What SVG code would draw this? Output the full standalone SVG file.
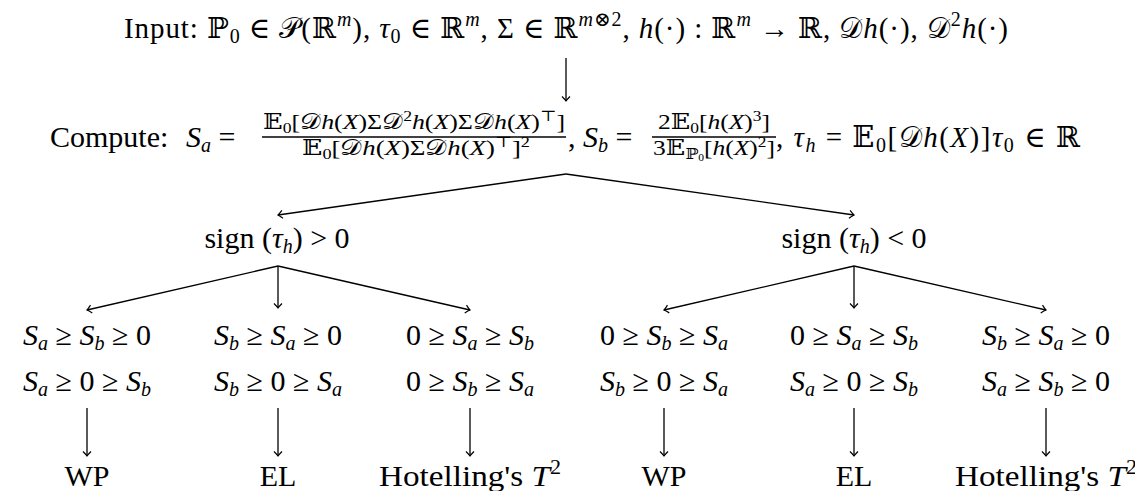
<svg xmlns="http://www.w3.org/2000/svg" width="1135" height="491" viewBox="0 0 1135 491">
<style>
.t{font-family:"Liberation Serif","DejaVu Serif",serif;font-size:29px;fill:#000}
.f{font-family:"Liberation Serif","DejaVu Serif",serif;font-size:22px;fill:#000}
.b{font-size:30px}
.s{font-size:20px}
.ss{font-size:15px}
.i{font-style:italic}
.c{text-anchor:middle}
.e{stroke:#000;stroke-width:1.3;fill:none}
</style>
<defs>
<marker id="to" markerUnits="userSpaceOnUse" markerWidth="12" markerHeight="12" viewBox="-6 -6 12 12" refX="0" refY="0" orient="auto">
<path d="M-4.5,-4 Q-1.5,-1 0,0 Q-1.5,1 -4.5,4" fill="none" stroke="#000" stroke-width="1.2"/>
</marker>
</defs>
<g id="connectors" class="e" marker-end="url(#to)">
<line x1="566" y1="58" x2="566" y2="101"/>
<line x1="566" y1="174" x2="278" y2="215"/>
<line x1="566" y1="174" x2="854" y2="215"/>
<line x1="278" y1="266" x2="87" y2="310"/>
<line x1="278" y1="266" x2="278" y2="308"/>
<line x1="278" y1="266" x2="470" y2="310"/>
<line x1="854" y1="266" x2="664" y2="310"/>
<line x1="854" y1="266" x2="854" y2="308"/>
<line x1="854" y1="266" x2="1046" y2="310"/>
<line x1="87" y1="408" x2="87" y2="456"/>
<line x1="278" y1="408" x2="278" y2="456"/>
<line x1="470" y1="408" x2="470" y2="456"/>
<line x1="664" y1="408" x2="664" y2="456"/>
<line x1="854" y1="408" x2="854" y2="456"/>
<line x1="1046" y1="408" x2="1046" y2="456"/>
</g>
<g id="input">
<text class="t" x="124" y="38" textLength="884">Input: ℙ<tspan class="s" dy="5">0</tspan><tspan dy="-5"> ∈ 𝒫(ℝ</tspan><tspan class="s i" dy="-12">m</tspan><tspan dy="12">), </tspan><tspan class="i">τ</tspan><tspan class="s" dy="5">0</tspan><tspan dy="-5"> ∈ ℝ</tspan><tspan class="s i" dy="-12">m</tspan><tspan dy="12">, Σ ∈ ℝ</tspan><tspan class="s" dy="-12"><tspan class="i">m</tspan>⊗2</tspan><tspan dy="12">, </tspan><tspan class="i">h</tspan>(·) : ℝ<tspan class="s i" dy="-12">m</tspan><tspan dy="12"> → ℝ, 𝒟</tspan><tspan class="i">h</tspan>(·), 𝒟<tspan class="s" dy="-12">2</tspan><tspan dy="12" class="i">h</tspan>(·)</text>
</g>
<g id="compute">
<text class="t b" x="50" y="147">Compute:</text>
<text class="t b" x="186" y="147"><tspan class="i">S</tspan><tspan class="s i" dy="5">a</tspan><tspan dy="-5"> =</tspan></text>
<text class="f c" x="414" y="129" textLength="302" lengthAdjust="spacingAndGlyphs">𝔼<tspan class="ss" dy="4">0</tspan><tspan dy="-4">[𝒟</tspan><tspan class="i">h</tspan>(<tspan class="i">X</tspan>)Σ𝒟<tspan class="ss" dy="-8">2</tspan><tspan dy="8" class="i">h</tspan>(<tspan class="i">X</tspan>)Σ𝒟<tspan class="i">h</tspan>(<tspan class="i">X</tspan>)<tspan class="ss" dy="-8">⊤</tspan><tspan dy="8">]</tspan></text>
<line class="e" x1="262" y1="137" x2="566" y2="137"/>
<text class="f c" x="416" y="155" textLength="228" lengthAdjust="spacingAndGlyphs">𝔼<tspan class="ss" dy="4">0</tspan><tspan dy="-4">[𝒟</tspan><tspan class="i">h</tspan>(<tspan class="i">X</tspan>)Σ𝒟<tspan class="i">h</tspan>(<tspan class="i">X</tspan>)<tspan class="ss" dy="-8">⊤</tspan><tspan dy="8">]</tspan><tspan class="ss" dy="-8">2</tspan></text>
<text class="t b" x="568" y="147">, <tspan class="i">S</tspan><tspan class="s i" dy="5">b</tspan><tspan dy="-5"> =</tspan></text>
<text class="f c" x="714" y="129" textLength="112" lengthAdjust="spacingAndGlyphs">2𝔼<tspan class="ss" dy="4">0</tspan><tspan dy="-4">[</tspan><tspan class="i">h</tspan>(<tspan class="i">X</tspan>)<tspan class="ss" dy="-8">3</tspan><tspan dy="8">]</tspan></text>
<line class="e" x1="652" y1="137" x2="776" y2="137"/>
<text class="f c" x="714" y="155" textLength="122" lengthAdjust="spacingAndGlyphs">3𝔼<tspan class="ss" dy="4">ℙ</tspan><tspan dy="2" style="font-size:10px">0</tspan><tspan dy="-6">[</tspan><tspan class="i">h</tspan>(<tspan class="i">X</tspan>)<tspan class="ss" dy="-8">2</tspan><tspan dy="8">]</tspan></text>
<text class="t" x="776" y="147" textLength="304">, <tspan class="i">τ</tspan><tspan class="s i" dy="5">h</tspan><tspan dy="-5"> = 𝔼</tspan><tspan class="s" dy="5">0</tspan><tspan dy="-5">[𝒟</tspan><tspan class="i">h</tspan>(<tspan class="i">X</tspan>)]<tspan class="i">τ</tspan><tspan class="s" dy="5">0</tspan><tspan dy="-5"> ∈ ℝ</tspan></text>
</g>
<g id="pos">
<text class="t b c" x="277" y="248">sign (<tspan class="i">τ</tspan><tspan class="s i" dy="5">h</tspan><tspan dy="-5">) &gt; 0</tspan></text>
</g>
<g id="neg">
<text class="t b c" x="854" y="248">sign (<tspan class="i">τ</tspan><tspan class="s i" dy="5">h</tspan><tspan dy="-5">) &lt; 0</tspan></text>
</g>
<g id="cond1">
<text class="t b c" x="87" y="345"><tspan class="i">S</tspan><tspan class="s i" dy="5">a</tspan><tspan dy="-5"> ≥ </tspan><tspan class="i">S</tspan><tspan class="s i" dy="5">b</tspan><tspan dy="-5"> ≥ 0</tspan></text>
<text class="t b c" x="87" y="391"><tspan class="i">S</tspan><tspan class="s i" dy="5">a</tspan><tspan dy="-5"> ≥ 0 ≥ </tspan><tspan class="i">S</tspan><tspan class="s i" dy="5">b</tspan></text>
</g>
<g id="cond2">
<text class="t b c" x="278" y="345"><tspan class="i">S</tspan><tspan class="s i" dy="5">b</tspan><tspan dy="-5"> ≥ </tspan><tspan class="i">S</tspan><tspan class="s i" dy="5">a</tspan><tspan dy="-5"> ≥ 0</tspan></text>
<text class="t b c" x="278" y="391"><tspan class="i">S</tspan><tspan class="s i" dy="5">b</tspan><tspan dy="-5"> ≥ 0 ≥ </tspan><tspan class="i">S</tspan><tspan class="s i" dy="5">a</tspan></text>
</g>
<g id="cond3">
<text class="t b c" x="470" y="345">0 ≥ <tspan class="i">S</tspan><tspan class="s i" dy="5">a</tspan><tspan dy="-5"> ≥ </tspan><tspan class="i">S</tspan><tspan class="s i" dy="5">b</tspan></text>
<text class="t b c" x="470" y="391">0 ≥ <tspan class="i">S</tspan><tspan class="s i" dy="5">b</tspan><tspan dy="-5"> ≥ </tspan><tspan class="i">S</tspan><tspan class="s i" dy="5">a</tspan></text>
</g>
<g id="cond4">
<text class="t b c" x="664" y="345">0 ≥ <tspan class="i">S</tspan><tspan class="s i" dy="5">b</tspan><tspan dy="-5"> ≥ </tspan><tspan class="i">S</tspan><tspan class="s i" dy="5">a</tspan></text>
<text class="t b c" x="664" y="391"><tspan class="i">S</tspan><tspan class="s i" dy="5">b</tspan><tspan dy="-5"> ≥ 0 ≥ </tspan><tspan class="i">S</tspan><tspan class="s i" dy="5">a</tspan></text>
</g>
<g id="cond5">
<text class="t b c" x="854" y="345">0 ≥ <tspan class="i">S</tspan><tspan class="s i" dy="5">a</tspan><tspan dy="-5"> ≥ </tspan><tspan class="i">S</tspan><tspan class="s i" dy="5">b</tspan></text>
<text class="t b c" x="854" y="391"><tspan class="i">S</tspan><tspan class="s i" dy="5">a</tspan><tspan dy="-5"> ≥ 0 ≥ </tspan><tspan class="i">S</tspan><tspan class="s i" dy="5">b</tspan></text>
</g>
<g id="cond6">
<text class="t b c" x="1046" y="345"><tspan class="i">S</tspan><tspan class="s i" dy="5">b</tspan><tspan dy="-5"> ≥ </tspan><tspan class="i">S</tspan><tspan class="s i" dy="5">a</tspan><tspan dy="-5"> ≥ 0</tspan></text>
<text class="t b c" x="1046" y="391"><tspan class="i">S</tspan><tspan class="s i" dy="5">a</tspan><tspan dy="-5"> ≥ </tspan><tspan class="i">S</tspan><tspan class="s i" dy="5">b</tspan><tspan dy="-5"> ≥ 0</tspan></text>
</g>
<g id="res1"><text class="t b c" x="87" y="486">WP</text></g>
<g id="res2"><text class="t b c" x="278" y="486">EL</text></g>
<g id="res3"><text class="t b c" x="470" y="486" textLength="182" lengthAdjust="spacingAndGlyphs">Hotelling's <tspan class="i">T</tspan><tspan class="s" dy="-12">2</tspan></text></g>
<g id="res4"><text class="t b c" x="664" y="486">WP</text></g>
<g id="res5"><text class="t b c" x="854" y="486">EL</text></g>
<g id="res6"><text class="t b c" x="1046" y="486" textLength="182" lengthAdjust="spacingAndGlyphs">Hotelling's <tspan class="i">T</tspan><tspan class="s" dy="-12">2</tspan></text></g>
</svg>
